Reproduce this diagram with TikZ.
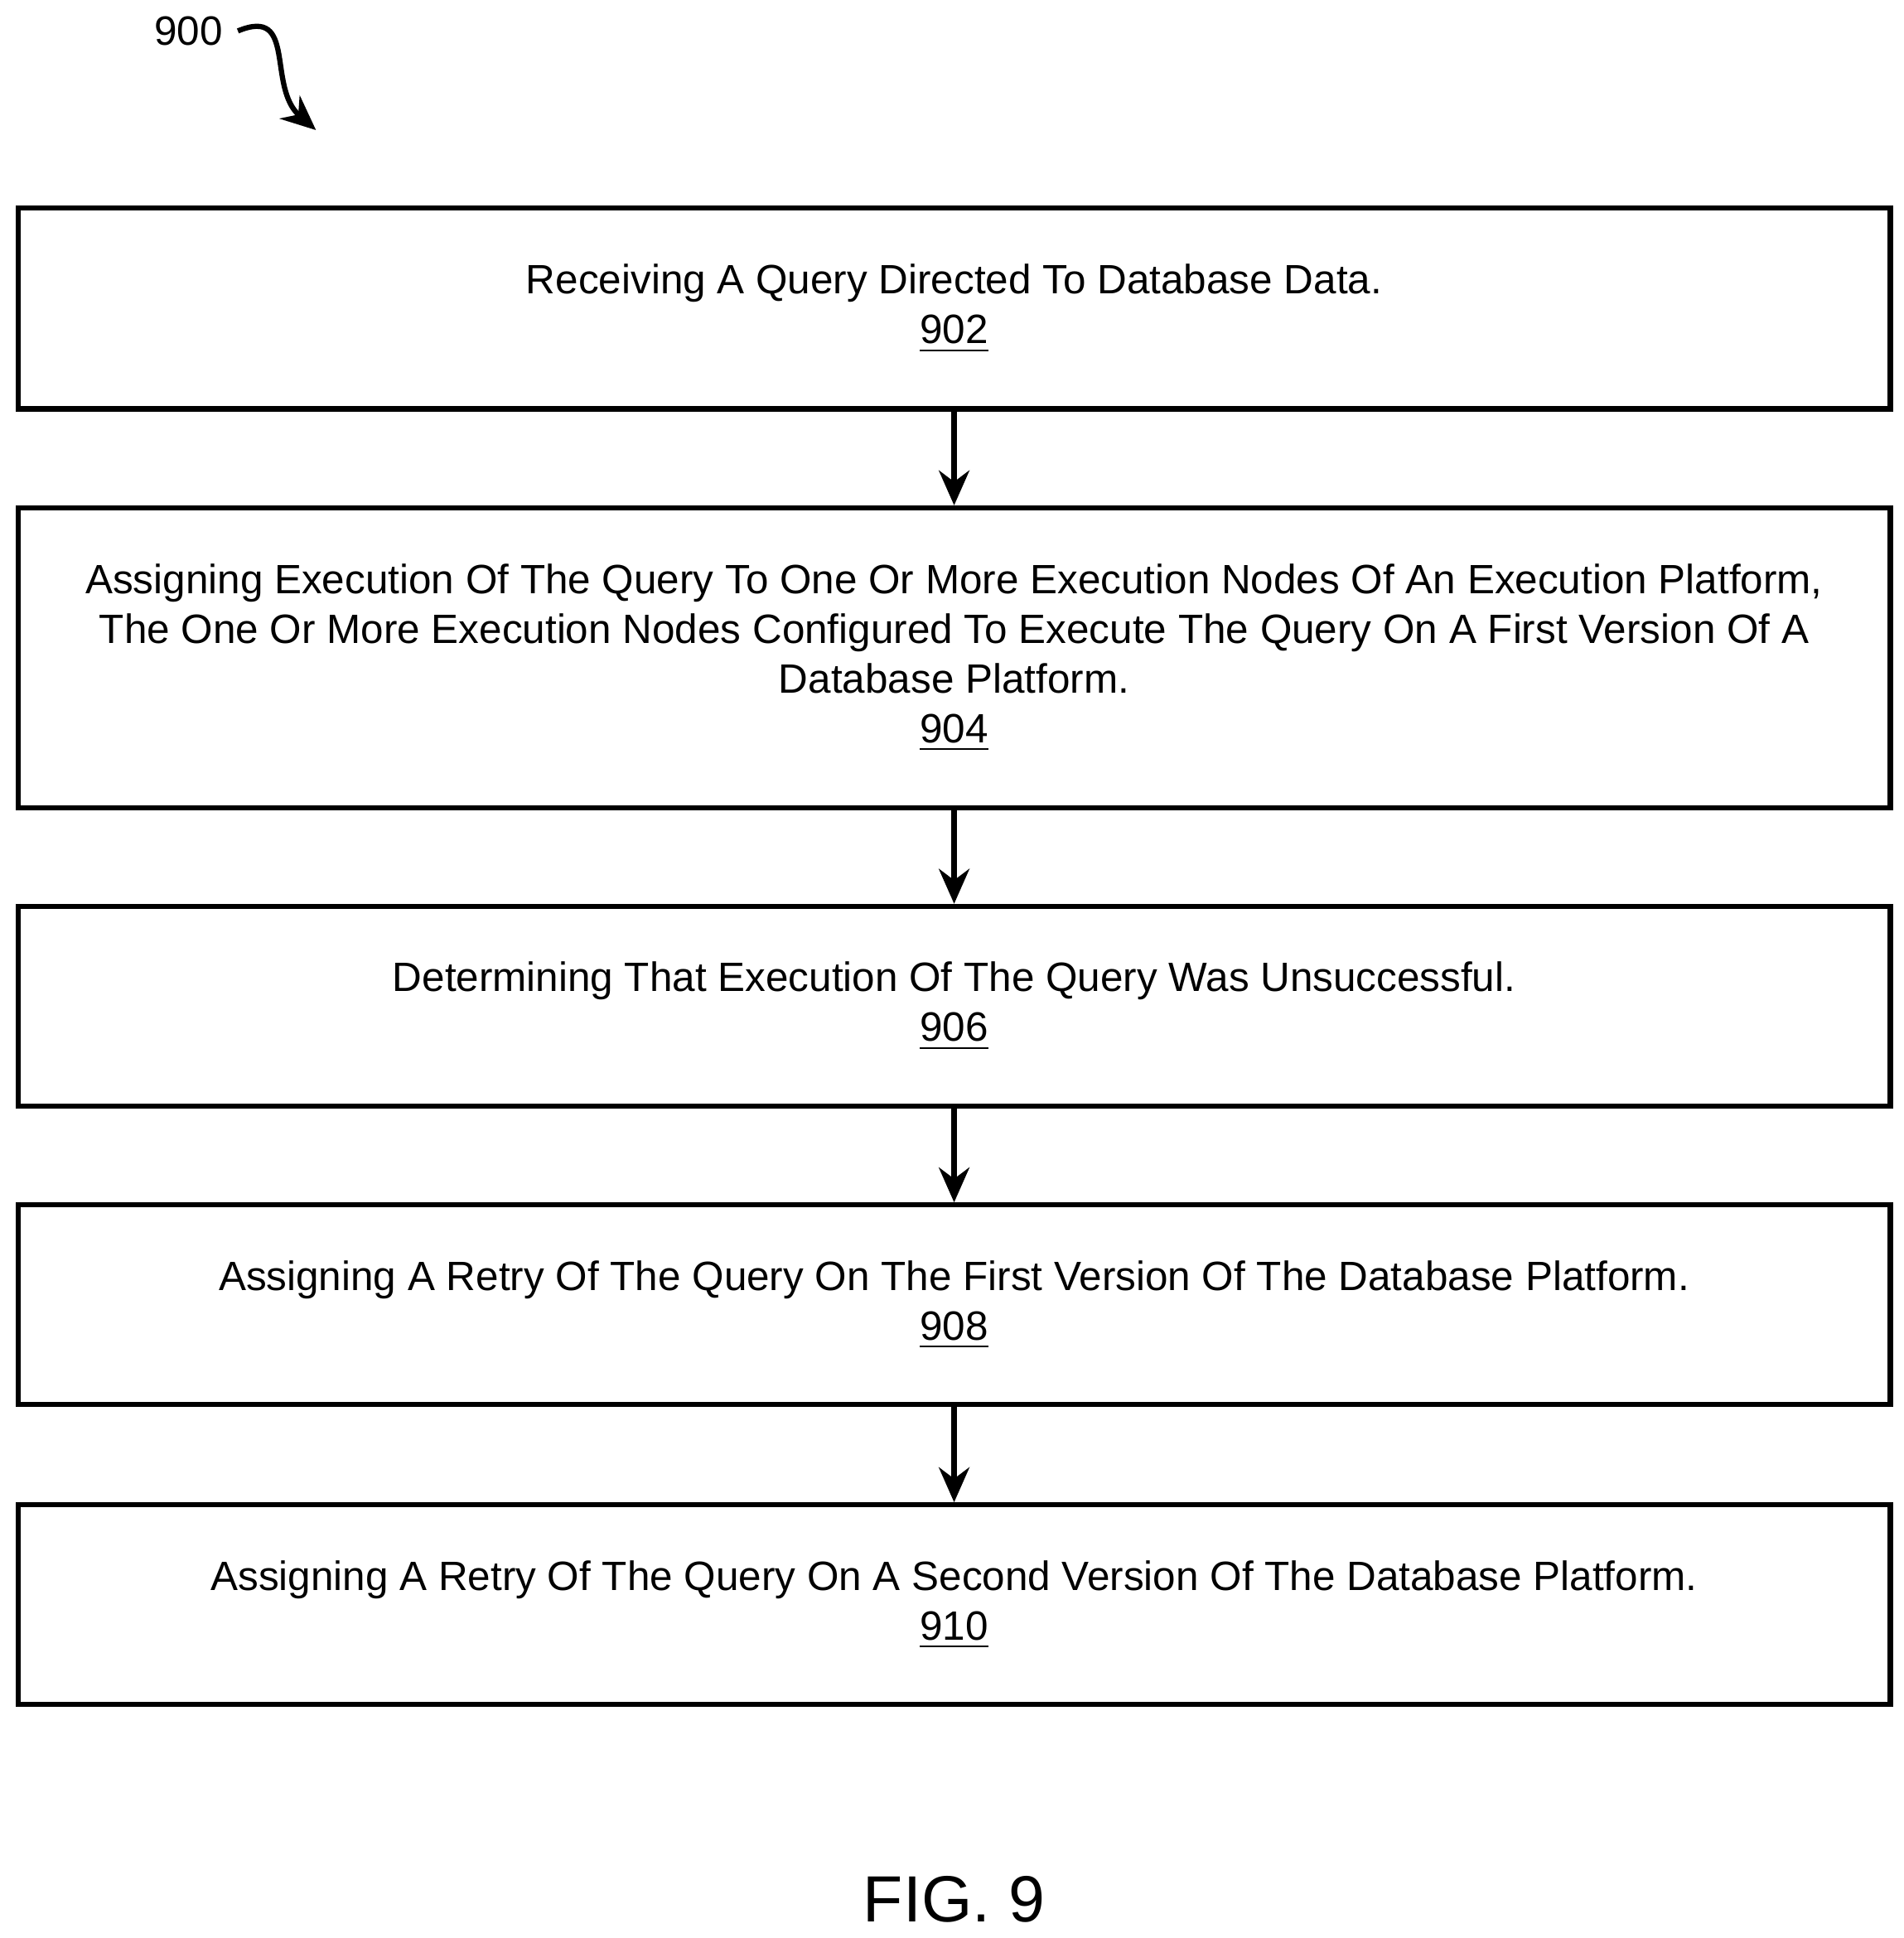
\documentclass[tikz,border=0pt]{standalone}
\usepackage{fontspec}
\setmainfont{Liberation Sans}
\usetikzlibrary{arrows.meta,positioning}
\begin{document}
\begin{tikzpicture}[x=0.01cm,y=-0.01cm,>={Stealth[length=8pt,width=7pt]},font=\fontsize{9.4}{11.4}\selectfont]

    % Define node styles
    \tikzset{stage/.style={draw, line width=1.2pt, rectangle, minimum width=15.1cm, align=center, inner sep=0pt}}
    \tikzset{flow/.style={->, line width=1.2pt}}

    \useasboundingbox (0,0) rectangle (1536,1564);

    % Draw nodes
    \node [stage, minimum height=1.62cm] (s902) at (770,249) {Receiving A Query Directed To Database Data.\\\underline{902}};
    \node [stage, minimum height=2.42cm] (s904) at (770,531) {Assigning Execution Of The Query To One Or More Execution Nodes Of An Execution Platform,\\The One Or More Execution Nodes Configured To Execute The Query On A First Version Of A\\Database Platform.\\\underline{904}};
    \node [stage, minimum height=1.61cm] (s906) at (770,812) {Determining That Execution Of The Query Was Unsuccessful.\\\underline{906}};
    \node [stage, minimum height=1.61cm] (s908) at (770,1053) {Assigning A Retry Of The Query On The First Version Of The Database Platform.\\\underline{908}};
    \node [stage, minimum height=1.61cm] (s910) at (770,1295) {Assigning A Retry Of The Query On A Second Version Of The Database Platform.\\\underline{910}};

    \node (fig) at (770,1533) {\fontsize{15}{18}\selectfont FIG. 9};
    \node (lbl) at (152,25) {900};
    \coordinate (tip) at (255,105);

    % Draw arrows
    \draw [flow] (s902) -- (s904);
    \draw [flow] (s904) -- (s906);
    \draw [flow] (s906) -- (s908);
    \draw [flow] (s908) -- (s910);
    \draw [flow] (lbl.east) .. controls (240,5) and (215,70) .. (tip);

\end{tikzpicture}
\end{document}
